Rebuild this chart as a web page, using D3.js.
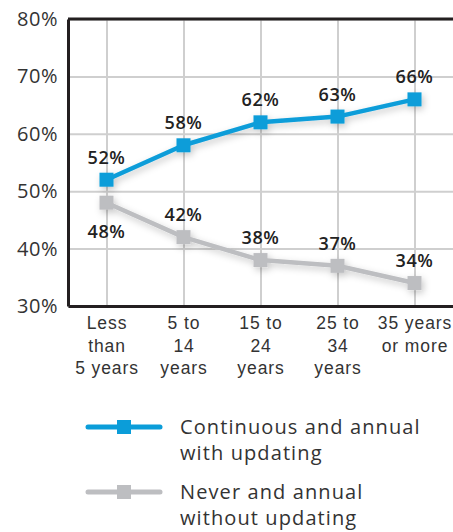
<!DOCTYPE html>
<html>
<head>
<meta charset="utf-8">
<script src="https://cdn.jsdelivr.net/npm/d3@7"></script>
<style>
  body { margin: 0; background: #fff; }
  svg { display: block; font-family: "Open Sans", sans-serif; }
</style>
</head>
<body>
<svg width="453" height="532"></svg>
<script>
var categories = [["Less", "than", "5 years"], ["5 to", "14", "years"], ["15 to", "24", "years"], ["25 to", "34", "years"], ["35 years", "or more"]];
var continuous = [52, 58, 62, 63, 66];
var never = [48, 42, 38, 37, 34];
var yTicks = [30, 40, 50, 60, 70, 80];
var seriesNames = [["Continuous and annual", "with updating"], ["Never and annual", "without updating"]];

var svg = d3.select("svg"),
    margin = {top: 19, right: 0, bottom: 226, left: 68},
    width = svg.attr("width") - margin.left - margin.right,
    height = svg.attr("height") - margin.top - margin.bottom,
    g = svg.append("g").attr("transform", "translate(" + margin.left + "," + margin.top + ")");

var blue = "#0b9dd9", grey = "#bdbec1", dark = "#231f20";

var x = d3.scalePoint().domain(d3.range(categories.length)).range([0, width]).padding(0.5),
    y = d3.scaleLinear().domain([30, 80]).range([height, 0]);

var defs = svg.append("defs");
var f = defs.append("filter").attr("id", "shadow").attr("x", "-50%").attr("y", "-50%").attr("width", "200%").attr("height", "200%");
f.append("feDropShadow").attr("dx", 2).attr("dy", 3).attr("stdDeviation", 3.5).attr("flood-color", "#000").attr("flood-opacity", 0.22);

// gridlines
g.append("g")
    .call(d3.axisLeft(y).tickValues(yTicks).tickSize(-width).tickFormat(""))
    .call(function(s) { s.select(".domain").remove(); })
    .selectAll("line").attr("stroke", "#cfcfcf").attr("stroke-width", 2);

g.append("g")
    .attr("transform", "translate(0," + height + ")")
    .call(d3.axisBottom(x).tickSize(-height).tickFormat(""))
    .call(function(s) { s.select(".domain").remove(); })
    .selectAll("line").attr("stroke", "#cfcfcf").attr("stroke-width", 2);

// top border
g.append("line").attr("x1", 0).attr("x2", width).attr("y1", y(80)).attr("y2", y(80))
    .attr("stroke", dark).attr("stroke-width", 3);

// y axis labels
var yAxis = g.append("g")
    .call(d3.axisLeft(y).tickValues(yTicks).tickSize(0).tickPadding(10).tickFormat(function(d) { return d + "%"; }));
yAxis.select(".domain").attr("stroke", dark).attr("stroke-width", 3);
yAxis.selectAll("text").attr("font-size", 20).attr("fill", "#333").attr("font-family", "Open Sans")
    .attr("letter-spacing", 0.5);

var xAxis = g.append("g")
    .attr("transform", "translate(0," + height + ")")
    .call(d3.axisBottom(x).tickSize(0).tickFormat(""));
xAxis.select(".domain").attr("stroke", dark).attr("stroke-width", 3);
xAxis.selectAll(".tick").each(function(d) {
  var t = d3.select(this).append("text")
      .attr("fill", "#333").attr("font-size", 17.5).attr("letter-spacing", 0.9).attr("text-anchor", "middle");
  categories[d].forEach(function(s, i) {
    t.append("tspan").attr("x", 0).attr("y", 23 + i * 22.5).text(s);
  });
});

var line = d3.line()
    .x(function(d, i) { return x(i); })
    .y(function(d) { return y(d); });

function drawSeries(values, color, above) {
  var s = g.append("g").attr("filter", "url(#shadow)");
  s.append("path").attr("d", line(values)).attr("fill", "none")
      .attr("stroke", color).attr("stroke-width", 4.5).attr("stroke-linejoin", "round");
  s.selectAll("rect").data(values).enter().append("rect")
      .attr("x", function(d, i) { return x(i) - 7; })
      .attr("y", function(d) { return y(d) - 7; })
      .attr("width", 14).attr("height", 14).attr("fill", color);
  g.append("g").selectAll("text").data(values).enter().append("text")
      .attr("x", function(d, i) { return x(i); })
      .attr("y", function(d, i) { return y(d) + (above(i) ? -16 : 35); })
      .attr("text-anchor", "middle").attr("font-size", 18).attr("font-weight", 600)
      .attr("letter-spacing", 0.6).attr("fill", "#222")
      .text(function(d) { return d + "%"; });
}

drawSeries(never, grey, function(i) { return i > 0; });
drawSeries(continuous, blue, function() { return true; });

// legend
var legend = svg.append("g").selectAll("g").data([blue, grey]).enter().append("g")
    .attr("transform", function(d, i) { return "translate(0," + (427 + i * 65) + ")"; });
legend.append("line").attr("x1", 88).attr("x2", 160)
    .attr("stroke", function(d) { return d; }).attr("stroke-width", 5).attr("stroke-linecap", "round");
legend.append("rect").attr("x", 117).attr("y", -7).attr("width", 14).attr("height", 14)
    .attr("fill", function(d) { return d; });
legend.append("text").attr("fill", "#333").attr("font-size", 20).attr("letter-spacing", 1.1)
    .each(function(d, i) {
      var t = d3.select(this);
      seriesNames[i].forEach(function(s, j) {
        t.append("tspan").attr("x", 180).attr("y", 7 + j * 26).text(s);
      });
    });
</script>
</body>
</html>
